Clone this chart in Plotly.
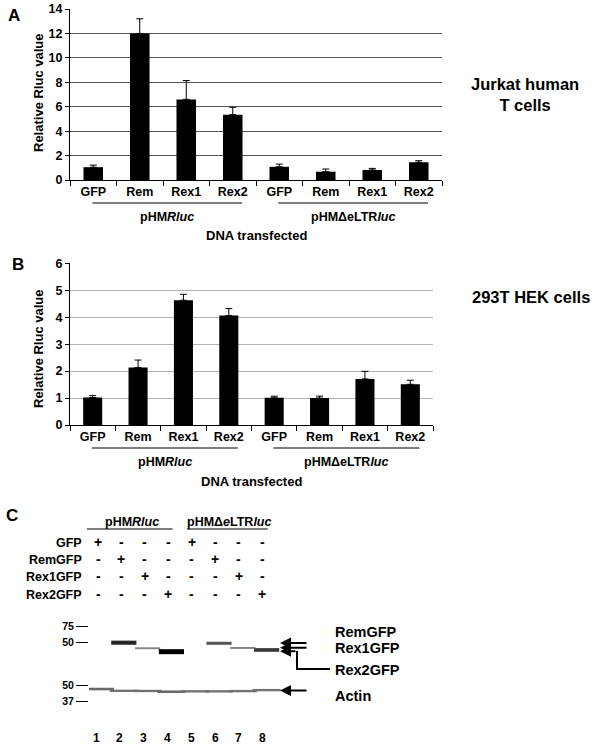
import numpy as np
import plotly.graph_objects as go

W, H = 600, 749
FONT = "Liberation Sans, Arial, sans-serif"

# =====================================================
# DATA
# =====================================================

samples = ["GFP", "Rem", "Rex1", "Rex2", "GFP", "Rem", "Rex1", "Rex2"]
vectors = ["pHMRluc"] * 4 + ["pHMΔeLTRluc"] * 4
sample_ids = [f"{s}|{v}" for s, v in zip(samples, vectors)]
group_labels = ["pHM<i>Rluc</i>", "pHMΔeLTR<i>luc</i>"]

jurkat_mean = [1.05, 12.0, 6.6, 5.35, 1.08, 0.68, 0.82, 1.45]
jurkat_err = [0.17, 1.2, 1.54, 0.6, 0.22, 0.22, 0.13, 0.13]

hek_mean = [1.02, 2.13, 4.63, 4.06, 1.01, 1.0, 1.71, 1.51]
hek_err = [0.07, 0.28, 0.22, 0.26, 0.06, 0.07, 0.28, 0.15]

lanes = [1, 2, 3, 4, 5, 6, 7, 8]
constructs = ["GFP", "RemGFP", "Rex1GFP", "Rex2GFP"]
transfected = [
    [1, 0, 0, 0, 1, 0, 0, 0],
    [0, 1, 0, 0, 0, 1, 0, 0],
    [0, 0, 1, 0, 0, 0, 1, 0],
    [0, 0, 0, 1, 0, 0, 0, 1],
]
blot_groups = ["pHM<i>Rluc</i>", "pHMΔ<i>e</i>LTR<i>luc</i>"]

ladder_top = [75, 50]
ladder_actin = [50, 37]

gfp_lane = [2, 3, 4, 6, 7, 8]
gfp_kda = [50.0, 43.7, 40.2, 49.3, 44.0, 41.9]
gfp_intensity = [0.8, 0.3, 1.0, 0.55, 0.3, 0.7]

actin_kda = [46.5, 45.0, 44.9, 44.3, 44.6, 44.6, 44.8, 45.6]
actin_intensity = [0.45, 0.4, 0.4, 0.45, 0.4, 0.4, 0.4, 0.4]

band_names = ["RemGFP", "Rex1GFP", "Rex2GFP"]
band_kda = [49.6, 44.2, 40.6]


def px(x):
    return x / W


def py(y):
    return 1 - y / H


def lane_px(l):
    return 100 + (l - 1) * 23.8


def band_style(intensity):
    widths = [0.6 + 4.4 * i for i in intensity]
    colors = [f"rgb({int(190 * (1 - i))},{int(190 * (1 - i))},{int(190 * (1 - i))})" for i in intensity]
    return widths, colors


def label(text, x, y, size, xanchor="center", **kw):
    return dict(text=text, x=px(x), y=py(y), xref="paper", yref="paper",
                xanchor=xanchor, yanchor="middle", showarrow=False,
                font=dict(size=size, **bold), **kw)


bold = dict(family=FONT, color="black", weight="bold")

fig = go.Figure()

# =====================================================
# PANELS A / B  BAR CHARTS
# =====================================================

for means, errs, ax in [(jurkat_mean, jurkat_err, ""), (hek_mean, hek_err, "2")]:
    fig.add_trace(
        go.Bar(
            x=sample_ids,
            y=means,
            marker=dict(color="black", line=dict(width=0)),
            error_y=dict(
                type="data",
                symmetric=False,
                array=errs,
                arrayminus=[0] * len(errs),
                color="black",
                thickness=1,
                width=3.5,
            ),
            xaxis="x" + ax,
            yaxis="y" + ax,
            showlegend=False,
        )
    )

# =====================================================
# PANEL C  WESTERN BLOT
# =====================================================

w, c = band_style(gfp_intensity)
fig.add_trace(
    go.Scatter(
        x=gfp_lane,
        y=np.log10(gfp_kda),
        mode="markers",
        marker=dict(symbol="line-ew", size=18, line=dict(width=w, color=c)),
        xaxis="x3",
        yaxis="y3",
        showlegend=False,
    )
)

w, c = band_style(actin_intensity)
fig.add_trace(
    go.Scatter(
        x=lanes,
        y=np.log10(actin_kda),
        mode="markers",
        marker=dict(symbol="line-ew", size=20, line=dict(width=w, color=c)),
        xaxis="x4",
        yaxis="y4",
        showlegend=False,
    )
)

bar_x = dict(
    type="category",
    tickmode="array",
    tickvals=sample_ids,
    ticktext=samples,
    tickson="boundaries",
    ticks="outside",
    ticklen=5,
    tickcolor="black",
    showline=True,
    linecolor="black",
    linewidth=1,
    showgrid=False,
    automargin=False,
    tickfont=dict(size=12.5, **bold),
)

bar_y = dict(
    ticks="outside",
    ticklen=4,
    tickcolor="black",
    showline=True,
    linecolor="black",
    linewidth=1,
    zeroline=False,
    automargin=False,
    tickfont=dict(size=12.5, **bold),
)

ladder_y = dict(
    tickmode="array",
    ticks="outside",
    ticklen=12,
    tickcolor="black",
    tickwidth=1,
    showline=False,
    showgrid=False,
    zeroline=False,
    automargin=False,
    tickfont=dict(size=10.5, **bold),
)

fig.update_layout(
    width=W,
    height=H,
    autosize=False,
    margin=dict(l=0, r=0, t=0, b=0, pad=0, autoexpand=False),
    paper_bgcolor="white",
    plot_bgcolor="white",
    bargap=0.58,
    font=dict(family=FONT, color="black"),
    xaxis=dict(domain=[px(70), px(442)], anchor="y", **bar_x),
    yaxis=dict(domain=[py(180), py(9)], anchor="x", range=[0, 14], dtick=2,
               gridcolor="#555555", gridwidth=1.2, **bar_y),
    xaxis2=dict(domain=[px(70), px(433)], anchor="y2", **bar_x),
    yaxis2=dict(domain=[py(425), py(263.3)], anchor="x2", range=[0, 6], dtick=1,
                gridcolor="#b3b3b3", gridwidth=1, **bar_y),
    xaxis3=dict(domain=[px(89), px(290)], anchor="y3",
                range=[1 - 11 / 23.8, 1 + 190 / 23.8], visible=False),
    yaxis3=dict(domain=[py(674), py(612)], anchor="x3",
                range=[np.log10(50) - 31.3 / 94.8, np.log10(75) + 14 / 94.8],
                tickvals=np.log10(ladder_top), ticktext=[str(v) for v in ladder_top],
                **ladder_y),
    xaxis4=dict(domain=[px(89), px(290)], anchor="y4", matches="x3", visible=False),
    yaxis4=dict(domain=[py(712), py(676)], anchor="x4",
                range=[np.log10(37) - 10.3 / 127.7, np.log10(50) + 9 / 127.7],
                tickvals=np.log10(ladder_actin), ticktext=[str(v) for v in ladder_actin],
                **ladder_y),
)

ann = []
shapes = []

# panel letters
for letter, x, y in [("A", 14, 15.5), ("B", 18, 264), ("C", 12, 515)]:
    ann.append(label(letter, x, y, 17))

# y titles, group labels, x titles
for ax, ty, line_y, grp_y, dna_y in [("", 93, 203, 217, 235), ("2", 349, 448, 462, 481)]:
    ann.append(label("Relative Rluc value", 38, ty, 13, textangle=-90))
    for g, lbl in enumerate(group_labels):
        x0, x1 = g * 4 - 0.02, g * 4 + 3.2
        shapes.append(dict(type="line", xref="x" + ax, yref="paper", x0=x0, x1=x1,
                           y0=py(line_y), y1=py(line_y), line=dict(color="black", width=1.2)))
        ann.append(dict(text=lbl, x=(x0 + x1) / 2, y=py(grp_y), xref="x" + ax, yref="paper",
                        xanchor="center", yanchor="middle",
                        showarrow=False, font=dict(size=12.5, **bold)))
    dom = fig.layout["xaxis" + ax].domain
    ann.append(label("DNA transfected", (dom[0] + dom[1]) / 2 * W, dna_y, 13))

ann.append(label("Jurkat human<br>T cells", 525, 95, 16.5))
ann.append(label("293T HEK cells", 531, 297, 16.5))

# panel C header
for g, lbl in enumerate(blot_groups):
    x0 = lane_px(4 * g + 0.45 + 0.2 * g)
    x1 = lane_px(4 * g + 4.05)
    shapes.append(dict(type="line", xref="paper", yref="paper", x0=px(x0), x1=px(x1),
                       y0=py(529), y1=py(529), line=dict(color="black", width=1.2)))
    ann.append(label(lbl, (x0 + x1) / 2 + 2, 522, 12.5))

for r, (name, row) in enumerate(zip(constructs, transfected)):
    y = 543 + r * 17.2
    ann.append(label(name, 84, y, 12.5, xanchor="right"))
    for l, on in zip(lanes, row):
        ann.append(label("+" if on else "-", lane_px(l) - 2 - 0.35 * (l - 1), y - 1, 14))

for l in lanes:
    ann.append(dict(text=str(l), x=l, y=py(738), xref="x4", yref="paper", xshift=-4,
                    xanchor="center", yanchor="middle",
                    showarrow=False, font=dict(size=12, **bold)))

# band arrows
for name, kda in zip(band_names, band_kda):
    tail = 17 if name == "Rex2GFP" else 28
    ann.append(dict(text="", x=px(280), y=np.log10(kda), xref="paper", yref="y3",
                    ax=tail, ay=0, showarrow=True, arrowhead=2, arrowsize=1.1,
                    arrowwidth=2, arrowcolor="black"))
ann.append(dict(text="", x=px(280), y=np.log10(actin_kda[-1]) - 0.004, xref="paper", yref="y4",
                ax=28, ay=0, showarrow=True, arrowhead=2, arrowsize=1.1,
                arrowwidth=2, arrowcolor="black"))

shapes.append(dict(type="path", xref="paper", yref="paper",
                   path=f"M {px(297)},{py(651)} L {px(297)},{py(669)} L {px(330)},{py(669)}",
                   line=dict(color="black", width=2)))

for name, y in [("RemGFP", 632), ("Rex1GFP", 648), ("Rex2GFP", 670), ("Actin", 695.5)]:
    ann.append(label(name, 333, y, 14.5, xanchor="left"))

fig.update_layout(annotations=ann, shapes=shapes)

fig.write_html(
    "out.html",
    config={"displayModeBar": False},
    post_script="document.body.style.margin = '0';",
)
